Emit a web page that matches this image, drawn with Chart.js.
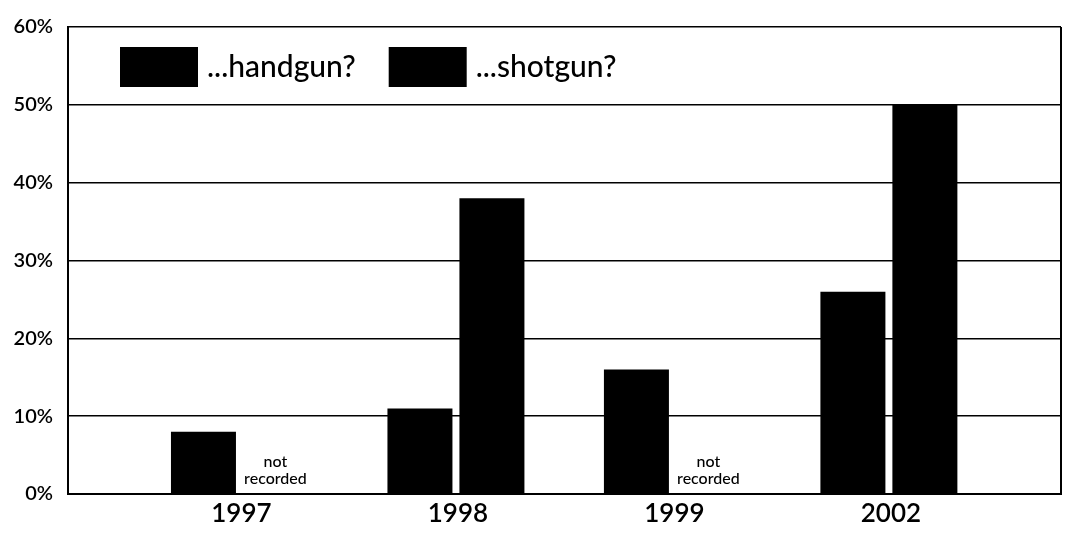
<!DOCTYPE html>
<html>
<head>
<meta charset="utf-8">
<script src="https://cdn.jsdelivr.net/npm/chart.js@4/dist/chart.umd.min.js"></script>
<style>
  html, body { margin: 0; padding: 0; background: #fff; }
</style>
</head>
<body>
<canvas id="chart" width="1068" height="536"></canvas>
<script>
"use strict";

const years = ['1997', '1998', '1999', '2002'];
const handgun = [8, 11, 16, 26];
const shotgun = [null, 38, null, 50];
const seriesLabels = ['...handgun?', '...shotgun?'];
const missingNote = ['not', 'recorded'];

const FONT = 'Lato, "Open Sans", sans-serif';


// legend inside the plot area, drawn from the dataset labels
const insideLegend = {
    id: 'insideLegend',
    afterDraw(chart) {
        const c = chart.ctx;
        const area = chart.chartArea;
        let x = area.left + 52;
        const top = area.top + 20;
        c.save();
        c.font = '500 30px ' + FONT;
        c.textBaseline = 'alphabetic';
        c.textAlign = 'left';
        chart.data.datasets.forEach(ds => {
            c.fillStyle = ds.backgroundColor;
            c.fillRect(x, top, 78, 40);
            c.fillStyle = '#000';
            c.fillText(ds.label, x + 87, top + 30);
            x += 87 + c.measureText(ds.label).width + 33;
        });
        c.restore();
    }
};

// "not recorded" where a value is missing, plus right border of the frame
const notes = {
    id: 'notes',
    afterDatasetsDraw(chart) {
        const c = chart.ctx;
        const area = chart.chartArea;
        const y0 = chart.scales.y.getPixelForValue(0);
        c.save();
        c.font = '500 16px ' + FONT;
        c.fillStyle = '#000';
        c.textAlign = 'center';
        c.textBaseline = 'alphabetic';
        chart.data.datasets.forEach((ds, d) => {
            const meta = chart.getDatasetMeta(d);
            ds.data.forEach((p, i) => {
                if (p.y !== null) return;
                const x = meta.data[i].x;
                c.fillText(missingNote[0], x, y0 - 27);
                c.fillText(missingNote[1], x, y0 - 10);
            });
        });
        c.strokeStyle = '#000';
        c.lineWidth = 2;
        c.beginPath();
        c.moveTo(area.right, area.top);
        c.lineTo(area.right, area.bottom);
        c.stroke();
        c.restore();
    }
};


const ctx = document.getElementById('chart').getContext('2d');
const chart = new Chart(ctx, {
    type: 'bar',
    data: {
        datasets: [{
            label: seriesLabels[0],
            backgroundColor: '#000',
            data: handgun.map((v, i) => ({ x: i, y: v }))
        }, {
            label: seriesLabels[1],
            backgroundColor: '#000',
            data: shotgun.map((v, i) => ({ x: i, y: v }))
        }]
    },
    options: {
        responsive: false,
        animation: false,
        categoryPercentage: 0.665,
        barPercentage: 0.903,
        layout: {
            padding: { left: 0, right: 7, top: 24, bottom: 0 }
        },
        scales: {
            x: {
                type: 'linear',
                offset: false,
                min: -0.792,
                max: 3.795,
                afterBuildTicks: s => { s.ticks = years.map((_, i) => ({ value: i })); },
                afterFit: s => { s.height = 42; },
                grid: { display: false, offset: false },
                border: { display: true, color: '#000', width: 2 },
                ticks: {
                    autoSkip: false,
                    maxRotation: 0,
                    padding: -4,
                    labelOffset: 2,
                    color: '#000',
                    font: { family: FONT, size: 26, weight: '600' },
                    callback: v => years[v]
                }
            },
            y: {
                min: 0,
                max: 60,
                afterFit: s => { s.width = 68; },
                grid: { color: '#000', lineWidth: 1.5, drawTicks: false },
                border: { display: true, color: '#000', width: 2 },
                ticks: {
                    stepSize: 10,
                    padding: 15,
                    color: '#000',
                    font: { family: FONT, size: 20, weight: '600' },
                    callback: v => v + '%'
                }
            }
        },
        plugins: {
            legend: { display: false },
            tooltip: { enabled: false }
        }
    },
    plugins: [insideLegend, notes]
});
</script>
</body>
</html>
